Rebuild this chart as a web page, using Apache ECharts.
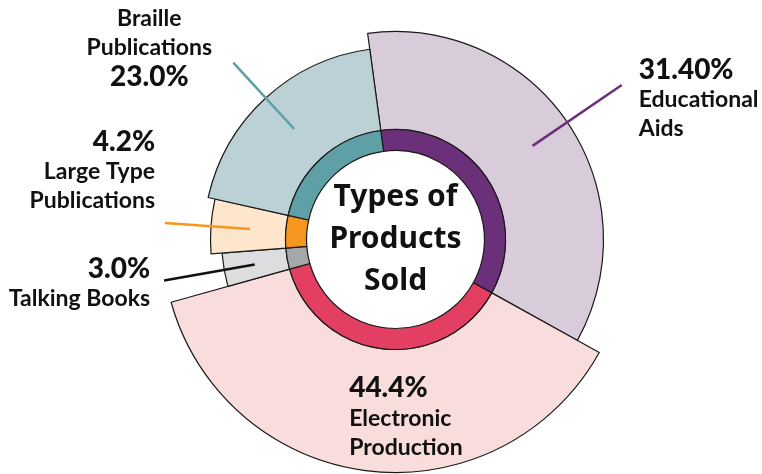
<!DOCTYPE html>
<html>
<head>
<meta charset="utf-8">
<script src="https://cdn.jsdelivr.net/npm/echarts@6/dist/echarts.min.js"></script>
<style>
  html, body { margin: 0; padding: 0; background: #fff; }
  #chart { width: 762px; height: 474px; }
</style>
</head>
<body>
<div id="chart"></div>
<script>
// categories, clockwise from the top
const categories = ['Educational\nAids', 'Electronic\nProduction', 'Talking Books', 'Large Type\nPublications', 'Braille\nPublications'];
// share of the circle each slice covers in the drawing (%)
const sliceShare = [35.2, 37.6, 3.1, 4.75, 19.35];
// percentages as printed on the labels
const pctLabels = ['31.40%', '44.4%', '3.0%', '4.2%', '23.0%'];
const centerTitle = 'Types of\nProducts\nSold';

// per-slice look (colours, radii, label placement)
const looks = [
  { outer: '#D8CBDA', inner: '#6C2F79', r: 208, leadR: 166, leadLen: 108, gap: 17, pad: [28, 0, 0, 0] },
  { outer: '#F9DDDC', inner: '#E33F63', r: 233, inside: true, pad: [9, 0, 0, 66] },
  { outer: '#DCDDDF', inner: '#A6A7A9', r: 174, leadR: 143, leadLen: 92, gap: 14, pad: [5, 0, 0, 0], line: '#111' },
  { outer: '#FEE6CC', inner: '#F6961E', r: 185, leadR: 146, leadLen: 85, gap: 10, pad: [0, 0, 104, 0] },
  { outer: '#BCD1D6', inner: '#5FA0A7', r: 192, leadR: 150, leadLen: 90, gap: 19, pad: [0, 0, 29, 0], centered: true, nameFirst: true }
];

const CENTER = [395.5, 239.5];
const START = 97.7;
const ink = '#111';
const font = 'Lato, "Open Sans", sans-serif';

const pctStyle = { fontFamily: font, fontWeight: 900, fontSize: 28, lineHeight: 31, color: ink };
const nameStyle = { fontFamily: font, fontWeight: 'bold', fontSize: 23, lineHeight: 29, color: ink };
const rich = {
  p: pctStyle,
  n: nameStyle,
  pc: Object.assign({ width: 130, align: 'center' }, pctStyle),
  nc: Object.assign({ width: 130, align: 'center' }, nameStyle),
  pl: Object.assign({ width: 118, align: 'left' }, pctStyle),
  nl: Object.assign({ width: 118, align: 'left' }, nameStyle)
};

function labelText(i) {
  const lk = looks[i];
  const sfx = lk.centered ? 'c' : (lk.inside ? 'l' : '');
  const names = categories[i].split('\n').map(s => '{n' + sfx + '|' + s + '}');
  const pct = '{p' + sfx + '|' + pctLabels[i] + '}';
  return (lk.nameFirst ? names.concat([pct]) : [pct].concat(names)).join('\n');
}

const hidden = { itemStyle: { color: 'transparent', borderWidth: 0 }, label: { show: false }, labelLine: { show: false } };

function sliceData(own, fn) {
  return categories.map((name, i) => {
    const d = { name: name, value: sliceShare[i] };
    return Object.assign(d, i === own ? fn(i) : hidden);
  });
}

const base = {
  type: 'pie',
  center: CENTER,
  startAngle: START,
  clockwise: true,
  silent: true,
  animation: false,
  avoidLabelOverlap: false,
  emphasis: { disabled: true },
  label: { show: false },
  labelLine: { show: false }
};

const series = [];

// white disc with the title
series.push(Object.assign({}, base, {
  radius: [0, 89],
  data: [{ value: 1, name: 'title' }],
  itemStyle: { color: '#fff', borderWidth: 0 },
  label: {
    show: true, position: 'center', formatter: centerTitle,
    fontFamily: '"Noto Sans", "DejaVu Sans", sans-serif',
    fontWeight: 'bold', fontSize: 30, lineHeight: 42, color: ink, padding: [8, 0, 0, 0]
  }
}));

// outer light slices, each with its own radius
looks.forEach((lk, k) => {
  series.push(Object.assign({}, base, {
    radius: [110, lk.r],
    data: sliceData(k, i => ({
      itemStyle: { color: lk.outer, borderColor: '#1a1a1a', borderWidth: 1.2 },
      label: lk.inside ? {
        show: true, position: 'inside', formatter: labelText(i), rich: rich, padding: lk.pad
      } : { show: false }
    }))
  }));
});

// inner saturated ring
series.push(Object.assign({}, base, {
  radius: [89, 110],
  data: categories.map((name, i) => ({
    name: name, value: sliceShare[i],
    itemStyle: { color: looks[i].inner, borderColor: '#1a1a1a', borderWidth: 1.2 }
  }))
}));

// invisible helper pies carrying the leader lines and outside labels
looks.forEach((lk, k) => {
  if (lk.inside) return;
  series.push(Object.assign({}, base, {
    z: 5,
    radius: [0, lk.leadR],
    data: sliceData(k, i => ({
      itemStyle: { color: 'transparent', borderWidth: 0 },
      label: {
        show: true, position: 'outside', formatter: labelText(i), rich: rich,
        distanceToLabelLine: lk.gap, padding: lk.pad, bleedMargin: 0
      },
      labelLine: {
        show: true, length: lk.leadLen, length2: 0, smooth: false,
        lineStyle: { color: lk.line || lk.inner, width: 2.5 }
      }
    }))
  }));
});

const chart = echarts.init(document.getElementById('chart'));
chart.setOption({ backgroundColor: '#fff', series: series });
</script>
</body>
</html>
